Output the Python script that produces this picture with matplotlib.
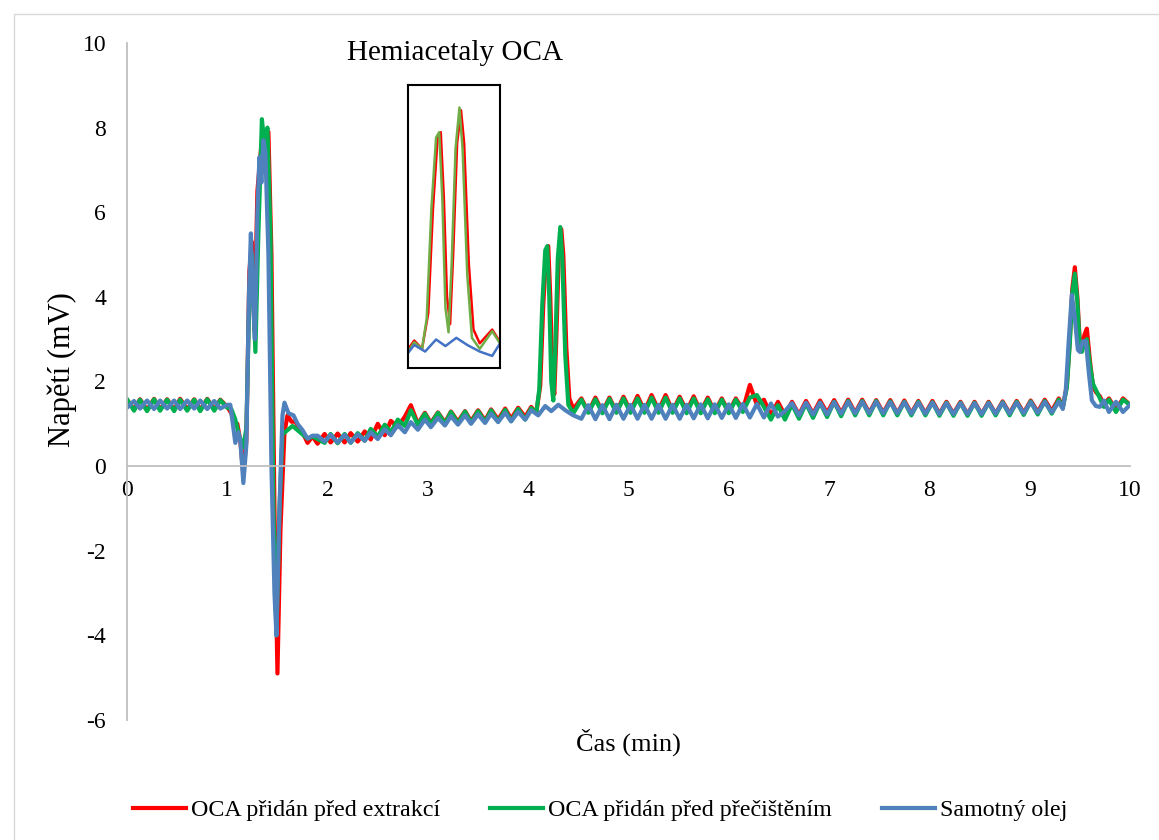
import matplotlib
matplotlib.use('Agg')
import matplotlib.pyplot as plt
from matplotlib.patches import Rectangle

plt.rcParams['font.family'] = ['Liberation Serif', 'DejaVu Serif']
plt.rcParams['axes.unicode_minus'] = False

labels = ['OCA přidán před extrakcí', 'OCA přidán před přečištěním', 'Samotný olej']
colors = ['#FF0000', '#00B050', '#4F81BD']
inset_colors = ['#FF0000', '#70AD47', '#4472C4']

# baseline 0 - 1 min (shared sampling times)
t_seg1 = [0.00, 0.07, 0.13, 0.20, 0.27, 0.33, 0.40, 0.47, 0.53, 0.60, 0.67, 0.73, 0.80, 0.87, 0.93, 1.00]
red_seg1 = [1.57, 1.34, 1.58, 1.33, 1.59, 1.34, 1.58, 1.33, 1.59, 1.34, 1.58, 1.33, 1.59, 1.34, 1.57, 1.40]
green_seg1 = [1.58, 1.31, 1.57, 1.30, 1.58, 1.31, 1.57, 1.30, 1.57, 1.31, 1.57, 1.30, 1.58, 1.31, 1.56, 1.38]
blue_seg1 = [1.38, 1.54, 1.36, 1.55, 1.35, 1.55, 1.36, 1.55, 1.35, 1.55, 1.36, 1.55, 1.35, 1.54, 1.36, 1.45]

# solvent front 1.0 - 1.85 min
red_core_t = [1.04, 1.08, 1.10, 1.13, 1.16, 1.19, 1.22, 1.245, 1.27, 1.30, 1.34, 1.37, 1.41, 1.44, 1.47,
              1.50, 1.53, 1.57, 1.60, 1.64, 1.68, 1.72, 1.76, 1.80, 1.85]
red_core = [1.25, 0.95, 1.0, 0.6, -0.2, 0.6, 4.6, 5.3, 3.2, 6.5, 7.6, 7.5, 7.9, 5.0, -1.0,
            -4.9, -1.5, 0.8, 1.2, 1.05, 1.05, 0.85, 0.75, 0.55, 0.7]
green_core_t = [1.04, 1.08, 1.12, 1.16, 1.19, 1.22, 1.245, 1.28, 1.31, 1.345, 1.37, 1.40, 1.43, 1.46,
                1.49, 1.52, 1.55, 1.60, 1.65, 1.70, 1.75, 1.80, 1.85]
green_core = [1.35, 1.1, 0.7, 0.45, 0.9, 4.0, 5.0, 2.7, 5.5, 8.2, 7.6, 8.0, 5.5, -1.0,
              -4.0, -1.0, 0.75, 0.85, 0.95, 0.85, 0.75, 0.65, 0.7]
blue_core_t = [1.03, 1.06, 1.08, 1.11, 1.13, 1.16, 1.19, 1.215, 1.235, 1.255, 1.275, 1.30, 1.32, 1.34,
               1.36, 1.38, 1.41, 1.44, 1.47, 1.49, 1.52, 1.55, 1.57, 1.61, 1.66, 1.70, 1.75, 1.80, 1.85]
blue_core = [1.45, 0.9, 0.55, 0.8, 0.6, -0.4, 0.5, 4.0, 5.5, 4.0, 3.0, 6.0, 7.3, 6.7,
             7.7, 7.4, 5.0, 0.0, -3.0, -4.0, -1.0, 1.2, 1.5, 1.25, 1.2, 1.0, 0.85, 0.65, 0.72]

# baseline 1.9 - 4.05 min
t_seg2 = [1.90, 1.97, 2.03, 2.10, 2.17, 2.23, 2.30, 2.37, 2.43, 2.50, 2.57, 2.63, 2.70, 2.77, 2.83,
          2.90, 2.97, 3.03, 3.10, 3.17, 3.23, 3.30, 3.37, 3.43, 3.50, 3.57, 3.63, 3.70, 3.77, 3.83,
          3.90, 3.97, 4.03]
red_seg2 = [0.53, 0.76, 0.56, 0.77, 0.56, 0.78, 0.58, 0.82, 0.63, 1.00, 0.73, 1.07, 0.93, 1.17, 1.44,
            1.00, 1.26, 1.02, 1.27, 1.03, 1.29, 1.05, 1.30, 1.06, 1.32, 1.08, 1.34, 1.10, 1.36, 1.12,
            1.38, 1.16, 1.40]
green_seg2 = [0.64, 0.55, 0.76, 0.54, 0.76, 0.55, 0.78, 0.60, 0.88, 0.70, 0.98, 0.80, 1.10, 0.95, 1.32,
              0.98, 1.24, 0.99, 1.26, 1.00, 1.28, 1.01, 1.29, 1.02, 1.30, 1.04, 1.32, 1.05, 1.33, 1.06,
              1.35, 1.10, 1.37]
blue_seg2 = [0.72, 0.58, 0.74, 0.56, 0.74, 0.56, 0.75, 0.60, 0.80, 0.64, 0.87, 0.73, 0.97, 0.80, 1.04,
             0.86, 1.10, 0.92, 1.14, 0.96, 1.18, 0.98, 1.20, 1.00, 1.22, 1.02, 1.24, 1.04, 1.26, 1.06,
             1.28, 1.10, 1.32]

# hemiacetal peaks 4.1 - 4.45 min
red_pk_t = [4.08, 4.12, 4.15, 4.18, 4.20, 4.22, 4.24, 4.26, 4.28, 4.305, 4.33, 4.35, 4.38, 4.41, 4.45]
red_pk = [1.25, 1.9, 3.8, 5.1, 5.2, 4.0, 2.2, 1.7, 3.0, 5.0, 5.6, 5.0, 2.8, 1.6, 1.35]
green_pk_t = [4.08, 4.11, 4.14, 4.17, 4.19, 4.21, 4.23, 4.25, 4.27, 4.295, 4.32, 4.34, 4.37, 4.40, 4.45]
green_pk = [1.25, 1.8, 3.8, 5.1, 5.2, 4.0, 2.0, 1.55, 2.8, 4.9, 5.65, 4.9, 2.6, 1.45, 1.25]
blue_pk_t = [4.10, 4.17, 4.23, 4.30, 4.37, 4.45]
blue_pk = [1.20, 1.42, 1.30, 1.45, 1.32, 1.20]

# baseline 4.5 - 9.3 min
t_seg3 = [4.53, 4.60, 4.67, 4.74, 4.81, 4.88, 4.95, 5.02, 5.09, 5.16,
          5.23, 5.30, 5.37, 5.44, 5.51, 5.58, 5.65, 5.72, 5.79, 5.86,
          5.93, 6.00, 6.07, 6.14, 6.21, 6.28, 6.35, 6.42, 6.49, 6.56,
          6.63, 6.70, 6.77, 6.84, 6.91, 6.98, 7.05, 7.12, 7.19, 7.26,
          7.33, 7.40, 7.47, 7.54, 7.61, 7.68, 7.75, 7.82, 7.89, 7.96,
          8.03, 8.10, 8.17, 8.24, 8.31, 8.38, 8.45, 8.52, 8.59, 8.66,
          8.73, 8.80, 8.87, 8.94, 9.01, 9.08, 9.15, 9.22, 9.29]
red_seg3 = [1.60, 1.28, 1.62, 1.28, 1.62, 1.28, 1.64, 1.30, 1.66, 1.30,
            1.68, 1.32, 1.68, 1.30, 1.64, 1.30, 1.65, 1.28, 1.62, 1.28,
            1.60, 1.28, 1.60, 1.33, 1.92, 1.45, 1.57, 1.20, 1.52, 1.20,
            1.52, 1.22, 1.54, 1.24, 1.55, 1.26, 1.56, 1.26, 1.57, 1.26,
            1.57, 1.26, 1.56, 1.26, 1.56, 1.25, 1.55, 1.25, 1.54, 1.25,
            1.54, 1.24, 1.52, 1.24, 1.52, 1.23, 1.52, 1.23, 1.52, 1.24,
            1.53, 1.25, 1.54, 1.26, 1.55, 1.28, 1.57, 1.30, 1.60]
green_seg3 = [1.57, 1.26, 1.58, 1.25, 1.59, 1.26, 1.60, 1.26, 1.60, 1.26,
              1.62, 1.26, 1.62, 1.26, 1.60, 1.25, 1.60, 1.25, 1.58, 1.25,
              1.57, 1.25, 1.57, 1.28, 1.62, 1.68, 1.40, 1.10, 1.44, 1.10,
              1.46, 1.12, 1.48, 1.14, 1.50, 1.16, 1.52, 1.18, 1.54, 1.20,
              1.54, 1.20, 1.54, 1.20, 1.53, 1.20, 1.52, 1.20, 1.52, 1.20,
              1.51, 1.19, 1.50, 1.19, 1.50, 1.19, 1.50, 1.19, 1.50, 1.20,
              1.51, 1.20, 1.52, 1.21, 1.53, 1.22, 1.54, 1.24, 1.57]
blue_seg3 = [1.12, 1.44, 1.11, 1.44, 1.11, 1.45, 1.12, 1.45, 1.12, 1.45,
             1.12, 1.45, 1.12, 1.45, 1.12, 1.45, 1.13, 1.46, 1.13, 1.46,
             1.14, 1.46, 1.14, 1.47, 1.15, 1.47, 1.15, 1.48, 1.17, 1.30,
             1.49, 1.20, 1.50, 1.22, 1.50, 1.22, 1.51, 1.24, 1.52, 1.25,
             1.52, 1.25, 1.52, 1.25, 1.51, 1.25, 1.51, 1.24, 1.50, 1.24,
             1.50, 1.23, 1.49, 1.23, 1.49, 1.23, 1.49, 1.23, 1.49, 1.24,
             1.50, 1.24, 1.50, 1.25, 1.51, 1.26, 1.52, 1.27, 1.52]

# last peaks 9.3 - 10 min
red_tail_t = [9.33, 9.37, 9.40, 9.425, 9.45, 9.475, 9.50, 9.52, 9.545, 9.57, 9.60, 9.63, 9.66, 9.70,
              9.74, 9.79, 9.86, 9.93, 10.0]
red_tail = [1.40, 1.9, 3.0, 4.2, 4.7, 4.0, 2.9, 2.75, 3.1, 3.25, 2.5, 1.9, 1.75, 1.65,
            1.45, 1.60, 1.33, 1.60, 1.45]
green_tail_t = red_tail_t
green_tail = [1.38, 1.85, 2.9, 4.1, 4.55, 3.9, 2.8, 2.7, 2.9, 3.0, 2.4, 1.95, 1.8, 1.6,
              1.4, 1.57, 1.28, 1.57, 1.45]
blue_tail_t = [9.33, 9.36, 9.39, 9.42, 9.45, 9.48, 9.50, 9.53, 9.56, 9.59, 9.62, 9.66, 9.70, 9.74,
               9.79, 9.86, 9.93, 10.0]
blue_tail = [1.35, 1.8, 3.0, 4.05, 3.5, 2.75, 2.7, 2.95, 2.95, 2.2, 1.55, 1.42, 1.4, 1.55,
             1.28, 1.52, 1.28, 1.45]

red_t = t_seg1 + red_core_t + t_seg2 + red_pk_t + t_seg3 + red_tail_t
red_v = red_seg1 + red_core + red_seg2 + red_pk + red_seg3 + red_tail
green_t = t_seg1 + green_core_t + t_seg2 + green_pk_t + t_seg3 + green_tail_t
green_v = green_seg1 + green_core + green_seg2 + green_pk + green_seg3 + green_tail
blue_t = t_seg1 + blue_core_t + t_seg2 + blue_pk_t + t_seg3 + blue_tail_t
blue_v = blue_seg1 + blue_core + blue_seg2 + blue_pk + blue_seg3 + blue_tail
series = [(red_t, red_v), (green_t, green_v), (blue_t, blue_v)]

W, H = 1159, 840
fig = plt.figure(figsize=(W / 100, H / 100), dpi=100)

# light frame of the chart area
fig.patches.append(Rectangle((14 / W, -0.1), 1.2, 1 - 14 / H + 0.1, transform=fig.transFigure,
                             fill=False, edgecolor='#D9D9D9', linewidth=1))

ax = fig.add_axes([127 / W, 1 - 720 / H, (1130 - 127) / W, (720 - 43) / H])
for (t, v), c, lab in zip(series, colors, labels):
    ax.plot(t, v, color=c, linewidth=3.0, label=lab, solid_joinstyle='round')

ax.set_xlim(0, 10)
ax.set_ylim(-6, 10)
ax.set_xticks(range(0, 11))
ax.set_yticks(range(-6, 11, 2))
ax.spines['top'].set_visible(False)
ax.spines['right'].set_visible(False)
ax.spines['bottom'].set_position(('data', 0))
ax.spines['bottom'].set_color('#BFBFBF')
ax.spines['left'].set_color('#BFBFBF')
ax.spines['bottom'].set_linewidth(1.3)
ax.spines['left'].set_linewidth(1.3)
ax.tick_params(axis='x', length=0, labelsize=17, pad=10)
ax.tick_params(axis='y', length=0, labelsize=17, pad=15)

fig.text(628 / W, 1 - 742 / H, 'Čas (min)', fontsize=19, ha='center', va='center')
fig.text(62 / W, 1 - 370 / H, 'Napětí (mV)', fontsize=22, ha='center', va='center', rotation=90)
fig.text(455 / W, 1 - 53 / H, 'Hemiacetaly OCA', fontsize=21, ha='center', va='center')

# inset with zoomed hemiacetal peaks
ins = fig.add_axes([408 / W, 1 - 368 / H, 92 / W, 283 / H])
for (t, v), c in zip(series, inset_colors):
    ins.plot(t, v, color=c, linewidth=1.8)
ins.set_xlim(3.99, 4.58)
ins.set_ylim(0.9, 6.06)
ins.set_xticks([])
ins.set_yticks([])
for s in ins.spines.values():
    s.set_color('black')
    s.set_linewidth(1.5)

fig.legend(loc='center', bbox_to_anchor=(600 / W, 1 - 810 / H), ncol=3, frameon=False,
           fontsize=17.3, handlelength=2.2, handletextpad=0.2, columnspacing=2.1)

fig.savefig('out.png', dpi=100)
